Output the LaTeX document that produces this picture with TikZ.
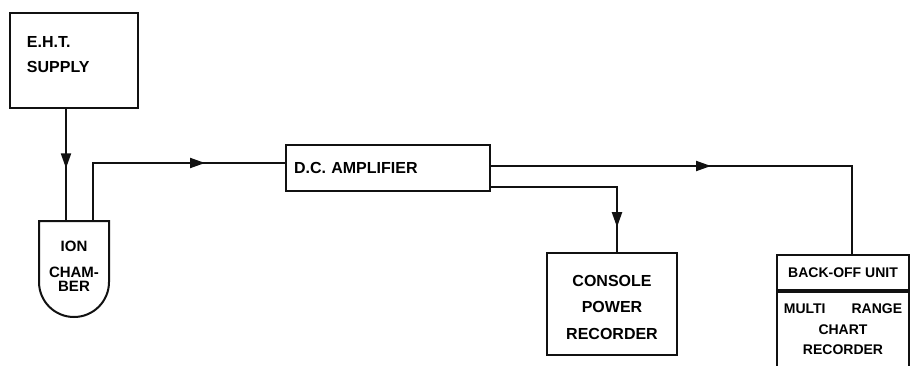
\documentclass[tikz,border=0pt]{standalone}
\usepackage{fontspec}
\setmainfont{Liberation Sans}
\usetikzlibrary{positioning,arrows.meta,decorations.markings}
\definecolor{ink}{HTML}{111111}
\tikzset{
  box/.style={draw=ink, line width=2pt, inner sep=0pt, font=\bfseries\fontsize{16}{25}\selectfont},
  unit/.style={box, minimum width=132pt, font=\bfseries\fontsize{14}{20.5}\selectfont},
  wire/.style={draw=ink, line width=2pt},
  midarr/.style={postaction={decorate}, decoration={markings, mark=at position #1 with {\arrow[ink]{Triangle[length=15pt,width=10pt]}}}}}

\begin{document}
\begin{tikzpicture}[x=1pt, y=-1pt]
\useasboundingbox (0,0) rectangle (912,366);
\clip (0,0) rectangle (912,366);
\node[box, minimum width=128pt, minimum height=95pt, align=left, text width=94pt, text depth=37pt] (eht) at (74,60.5) {E.H.T.\\SUPPLY};
\node[box, draw=none, outer sep=0pt, minimum width=70pt, minimum height=96pt, align=center, text depth=6pt, font=\bfseries\fontsize{15}{18}\selectfont] (ion) at (74,269) {ION\\[8pt]CHAM-\\[-4pt]BER};
\draw[wire] (ion.north west) -- ([yshift=35pt]ion.south west) arc[start angle=180, end angle=360, radius=35pt] -- (ion.north east) -- cycle;
\node[box, minimum width=204pt, minimum height=46pt, align=left, text width=188pt] (amp) at (388,168) {D.C. AMPLIFIER};
\node[box, minimum width=130pt, minimum height=102pt, align=center, text height=70.5pt, font=\bfseries\fontsize{16}{26.5}\selectfont] (console) at (612,304) {CONSOLE\\POWER\\RECORDER};
\node[unit, minimum height=35pt] (backoff) at (843,272.5) {BACK-OFF UNIT};
\node[unit, anchor=north, align=center, inner ysep=12pt, text depth=40pt] (chart) at (backoff.south) {MULTI\hspace{26pt}RANGE\\CHART\\RECORDER};
\draw[wire, midarr=0.53] ([xshift=-8pt]eht.south) -- ([xshift=-8pt]ion.north);
\draw[wire, midarr=0.68] ([xshift=19pt]ion.north) |- ([yshift=5pt]amp.west);
\draw[wire, midarr=0.49] ([yshift=2pt]amp.east) -| ([xshift=9pt]backoff.north);
\draw[wire, midarr=0.87] ([yshift=-19pt]amp.east) -| ([xshift=5pt]console.north);
\end{tikzpicture}
\end{document}
